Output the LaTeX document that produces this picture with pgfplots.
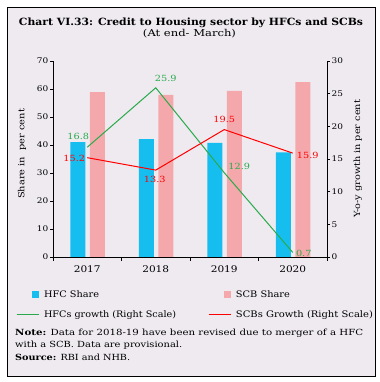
\documentclass[border=0pt]{standalone}
\usepackage{fontspec}
\setmainfont{DejaVu Serif}
\newfontfamily\wide[FakeStretch=1.15]{DejaVu Serif}
\usepackage{graphicx}
\usepackage{pgfplots}
\pgfplotsset{compat=1.18}
\definecolor{bg}{RGB}{238,234,240}
\definecolor{hfc}{RGB}{22,190,240}
\definecolor{scb}{RGB}{245,168,172}
\definecolor{grn}{RGB}{40,170,75}
\definecolor{rd}{RGB}{255,0,0}
\newcommand\fit[2]{\resizebox{#1bp}{\height}{#2}}
\pgfplotstableread{
x y dx dy
0 16.8 -9 11
1 25.9 10 9
2 12.9 15 6
3 0.7 11 -1
}\hfcgrowth
\pgfplotstableread{
x y dx dy
0 15.2 -13 -1
1 13.3 -1 -9
2 19.5 0 10
3 15.9 15 -2
}\scbgrowth
\begin{document}
\begin{tikzpicture}[x=1bp,y=1bp]
\fill[white] (0,0) rectangle (380,382);
\filldraw[fill=bg,draw=black,line width=0.8bp] (7,6) rectangle (375,375);
\node[font=\bfseries\fontsize{10}{12}\selectfont, inner sep=0pt] at (191,359) {\fit{344}{Chart VI.33: Credit to Housing sector by HFCs and SCBs}};
\node[font=\fontsize{9.5}{11}\selectfont, inner sep=0pt] at (189.5,348) {\fit{93}{(At end- March)}};
\begin{axis}[at={(53bp,125bp)}, anchor=south west, scale only axis,
  width=274bp, height=196bp,
  xmin=-0.5, xmax=3.5, ymin=0, ymax=70,
  axis x line*=bottom, axis y line*=left,
  axis line style={-, line width=0.6bp},
  every tick/.style={black, line width=0.6bp},
  tick align=outside,
  xtick={0,1,2,3}, xticklabels={2017,2018,2019,2020},
  major x tick style={draw=none},
  minor xtick={-0.5,0.5,1.5,2.5,3.5},
  minor tick length=4bp, major tick length=3bp,
  ytick={0,10,...,70},
  /pgf/number format/assume math mode=true,
  yticklabel style={font=\wide\fontsize{7.8}{9}\selectfont, inner sep=1.5bp},
  xticklabel style={font=\wide\fontsize{9.2}{10}\selectfont, yshift=-2bp},
  ylabel={\fit{90}{Share in\ \ per cent}},
  ylabel style={at={(axis description cs:-0.113,0.526)}, anchor=center, font=\fontsize{8.5}{10}\selectfont},
  legend columns=2,
  legend cell align=left,
  legend style={draw=none, fill=none, at={(-0.135,-0.161)}, anchor=north west,
    inner sep=0pt, row sep=7.5bp,
    font=\fontsize{9}{10}\selectfont,
    /tikz/every even column/.append style={column sep=30bp},
    /tikz/every odd column/.append style={column sep=3bp}},
]
\addplot[ybar, bar width=15bp, bar shift=-9.5bp, fill=hfc, draw=none, forget plot]
  coordinates {(0,41.0) (1,42.1) (2,40.8) (3,37.4)};
\addplot[ybar, bar width=15bp, bar shift=10bp, fill=scb, draw=none, forget plot]
  coordinates {(0,58.9) (1,57.9) (2,59.3) (3,62.5)};
\addlegendimage{legend image code/.code={\path[draw=none] (0bp,0bp) -- (22bp,0bp); \fill[hfc, draw=none] (15bp,-3.5bp) rectangle (22bp,3.5bp);}}
\addlegendentry{\fit{55}{HFC Share}}
\addlegendimage{legend image code/.code={\path[draw=none] (0bp,0bp) -- (22bp,0bp); \fill[scb, draw=none] (15bp,-3.5bp) rectangle (22bp,3.5bp);}}
\addlegendentry{\fit{54}{SCB Share}}
\addlegendimage{legend image code/.code={\draw[grn, line width=0.9bp] (0bp,0bp) -- (22bp,0bp);}}
\addlegendentry{\fit{132}{HFCs growth (Right Scale)}}
\addlegendimage{legend image code/.code={\draw[rd, line width=0.9bp] (0bp,0bp) -- (22bp,0bp);}}
\addlegendentry{\fit{137}{SCBs Growth (Right Scale)}}
\end{axis}
\begin{axis}[at={(53bp,125bp)}, anchor=south west, scale only axis,
  width=274bp, height=196bp,
  xmin=-0.5, xmax=3.5, ymin=0, ymax=30,
  axis x line=none, axis y line*=right,
  axis line style={-, line width=0.6bp},
  every tick/.style={black, line width=0.6bp},
  tick align=outside, major tick length=3bp,
  ytick={0,5,...,30},
  /pgf/number format/assume math mode=true,
  yticklabel style={font=\wide\fontsize{7.8}{9}\selectfont, inner sep=1.5bp},
  ylabel={\fit{118}{Y-o-y growth in per cent}},
  ylabel style={at={(axis description cs:1.113,0.5)}, anchor=center, font=\fontsize{8.5}{10}\selectfont},
  point meta=explicit,
  nodes near coords={\pgfmathprintnumber[fixed,fixed zerofill,precision=1]{\pgfplotspointmeta}},
  visualization depends on={\thisrow{dx} \as \dx},
  visualization depends on={\thisrow{dy} \as \dy},
]
\addplot[grn, line width=1bp, mark=none,
  every node near coord/.append style={anchor=center, inner sep=0pt, xshift=\dx bp, yshift=\dy bp, text=grn, font=\wide\fontsize{8.5}{10}\selectfont}]
  table[x=x, y=y, meta=y] {\hfcgrowth};
\addplot[rd, line width=1bp, mark=none,
  every node near coord/.append style={anchor=center, inner sep=0pt, xshift=\dx bp, yshift=\dy bp, text=rd, font=\wide\fontsize{8.5}{10}\selectfont}]
  table[x=x, y=y, meta=y] {\scbgrowth};
\end{axis}
\node[anchor=west, inner sep=0pt, font=\fontsize{8.5}{10}\selectfont] at (15,49) {\fit{348}{\textbf{Note:} Data for 2018-19 have been revised due to merger of a HFC}};
\node[anchor=west, inner sep=0pt, font=\fontsize{8.5}{10}\selectfont] at (15,37) {\fit{167}{with a SCB. Data are provisional.}};
\node[anchor=west, inner sep=0pt, font=\fontsize{8.5}{10}\selectfont] at (15,25) {\fit{115}{\textbf{Source:} RBI and NHB.}};
\end{tikzpicture}
\end{document}
